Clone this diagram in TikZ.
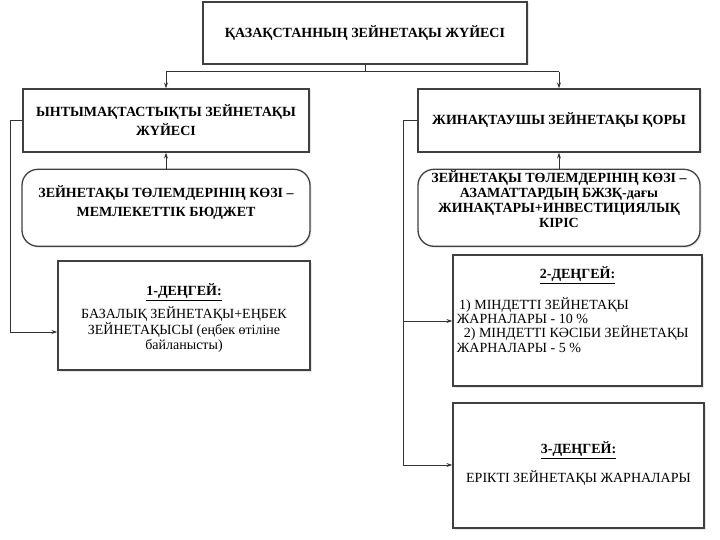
\documentclass[tikz,border=0pt]{standalone}
\usepackage{fontspec}
\setmainfont{Liberation Serif}
\usetikzlibrary{
    arrows.meta,
    positioning,
    shadows
}
\tikzset{
    every picture/.style = {
        > = {Stealth[length=6pt, width=4pt]},
        line width = 1pt,
        draw = black!80
    },
    box/.style = {
        draw = black!75,
        line width = 1.3pt,
        fill = white,
        drop shadow = {opacity = 0.2, shadow xshift = 1.5pt, shadow yshift = -1.5pt}
    },
    src/.style = {
        box,
        rounded corners = 16pt
    },
    txt/.style = {
        inner sep = 0pt,
        align = center,
        font = \bfseries\fontsize{14}{19}\selectfont
    },
    body/.style = {
        inner sep = 0pt,
        font = \fontsize{14}{15.5}\selectfont
    }
}

\begin{document}
\begin{tikzpicture}[
                        x = 1pt,
                        y = -1pt,
                        font = \bfseries\fontsize{14}{19}\selectfont
                    ]
    \useasboundingbox (0,0) rectangle (720,540);

    \node[box, minimum width = 324, minimum height = 62] (sys) at (365,33) {ҚАЗАҚСТАННЫҢ ЗЕЙНЕТАҚЫ ЖҮЙЕСІ};

    % two pillars
    \node[box, minimum width = 286, minimum height = 63, align = center] (sol) at (166,120.5) {ЫНТЫМАҚТАСТЫҚТЫ ЗЕЙНЕТАҚЫ\\ЖҮЙЕСІ};
    \node[box, minimum width = 282, minimum height = 63] (acc) at (559,120.5) {ЖИНАҚТАУШЫ ЗЕЙНЕТАҚЫ ҚОРЫ};

    \node[src, minimum width = 288, minimum height = 77] (solsrc) [below = 16pt of sol] {};
    \node[txt] at ([yshift = 5pt]solsrc.center) {ЗЕЙНЕТАҚЫ ТӨЛЕМДЕРІНІҢ КӨЗІ –\\МЕМЛЕКЕТТІК БЮДЖЕТ};
    \node[src, minimum width = 282, minimum height = 77] (accsrc) [below = 16pt of acc] {};
    \node[txt, font = \bfseries\fontsize{14}{15}\selectfont] at ([yshift = 9pt]accsrc.center) {ЗЕЙНЕТАҚЫ ТӨЛЕМДЕРІНІҢ КӨЗІ –\\АЗАМАТТАРДЫҢ БЖЗҚ-дағы\\ЖИНАҚТАРЫ+ИНВЕСТИЦИЯЛЫҚ\\КІРІС};

    % levels
    \node[box, minimum width = 252, minimum height = 109] (lvl1) at (184,315.5) {};
    \node[txt] at (lvl1.north |- 0,292) {\underline{1-ДЕҢГЕЙ:}};
    \node[body, align = center] at (lvl1.north |- 0,330) {БАЗАЛЫҚ ЗЕЙНЕТАҚЫ+ЕҢБЕК\\ЗЕЙНЕТАҚЫСЫ (еңбек өтіліне\\байланысты)};

    \node[box, minimum width = 249, minimum height = 131] (lvl2) at (577.5,320.5) {};
    \node[txt] at (lvl2.north |- 0,275) {\underline{2-ДЕҢГЕЙ:}};
    \node[body, align = left, anchor = west, font = \fontsize{14}{14.3}\selectfont] at ([xshift = 4pt]lvl2.west |- 0,325) {\,1) МІНДЕТТІ ЗЕЙНЕТАҚЫ\\ЖАРНАЛАРЫ - 10 \%\\\ \ 2) МІНДЕТТІ КӘСІБИ ЗЕЙНЕТАҚЫ\\ЖАРНАЛАРЫ - 5 \%};

    \node[box, minimum width = 251, minimum height = 125] (lvl3) at (578.5,465.5) {};
    \node[txt] at (lvl3.north |- 0,450) {\underline{3-ДЕҢГЕЙ:}};
    \node[body] at (lvl3.north |- 0,478) {ЕРІКТІ ЗЕЙНЕТАҚЫ ЖАРНАЛАРЫ};

    % connectors
    \coordinate (split) at (365,72);
    \coordinate (lbus) at (10,332);
    \coordinate (rmid) at (403,321);
    \coordinate (rbus) at (403,465);

    \draw (sys.south) -- (split);
    \draw (sol.north |- split) -- (acc.north |- split);
    \draw[->] (sol.north |- split) -- (sol.north);
    \draw[->] (acc.north |- split) -- (acc.north);
    \draw[->] (solsrc.north) -- (sol.south);
    \draw[->] (accsrc.north) -- (acc.south);

    \draw[->] (sol.west) -| (lbus) -- (lbus -| lvl1.west);
    \draw[->] (acc.west) -| (rbus) -- (rbus -| lvl3.west);
    \draw[->] (rmid) -- (rmid -| lvl2.west);
\end{tikzpicture}
\end{document}
